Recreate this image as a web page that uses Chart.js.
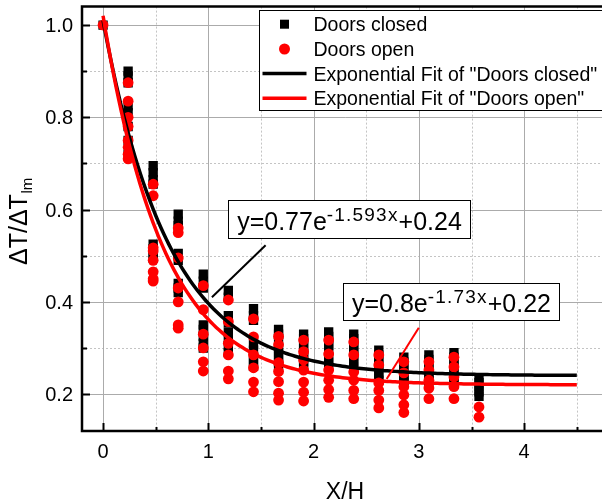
<!DOCTYPE html>
<html>
<head>
<meta charset="utf-8">
<script src="https://cdn.jsdelivr.net/npm/chart.js@4/dist/chart.umd.min.js"></script>
<style>
  html, body { margin: 0; padding: 0; background: #ffffff; overflow: hidden; width: 602px; height: 501px; }
  canvas { display: block; }
</style>
</head>
<body>
<canvas id="c" width="615" height="501"></canvas>
<script>
// Dimensionless position along the corridor for each measurement column
const xPositions = [0, 0.238, 0.476, 0.714, 0.952, 1.19, 1.429, 1.667, 1.905, 2.143, 2.381, 2.619, 2.857, 3.095, 3.333, 3.571];

// Normalised temperature rise per column, doors closed
const closedValues = [
  [1.0],
  [0.90, 0.89, 0.875, 0.825, 0.81, 0.78, 0.75, 0.72],
  [0.695, 0.68, 0.665, 0.655, 0.525, 0.515, 0.505, 0.495],
  [0.59, 0.575, 0.565, 0.505, 0.49, 0.44, 0.43, 0.42],
  [0.46, 0.445, 0.43, 0.35, 0.34, 0.325, 0.31, 0.30],
  [0.425, 0.41, 0.37, 0.355, 0.335, 0.32, 0.305, 0.29],
  [0.385, 0.37, 0.36, 0.31, 0.295, 0.28, 0.27, 0.26],
  [0.34, 0.33, 0.32, 0.30, 0.29, 0.28, 0.27, 0.26],
  [0.33, 0.32, 0.31, 0.30, 0.29, 0.28, 0.27, 0.26],
  [0.335, 0.325, 0.315, 0.305, 0.295, 0.28, 0.27, 0.26],
  [0.33, 0.32, 0.31, 0.30, 0.29, 0.28, 0.27, 0.26],
  [0.295, 0.285, 0.275, 0.265, 0.255, 0.245, 0.235, 0.23],
  [0.28, 0.27, 0.26, 0.25, 0.24, 0.235, 0.23, 0.225],
  [0.285, 0.275, 0.265, 0.255, 0.245, 0.24, 0.23, 0.225],
  [0.29, 0.28, 0.27, 0.26, 0.25, 0.24, 0.235, 0.23],
  [0.235, 0.225, 0.215, 0.205, 0.195]
];

// Normalised temperature rise per column, doors open
const openValues = [
  [1.0],
  [0.875, 0.835, 0.80, 0.78, 0.75, 0.735, 0.72, 0.71],
  [0.655, 0.63, 0.517, 0.51, 0.49, 0.465, 0.45, 0.445],
  [0.56, 0.55, 0.495, 0.43, 0.40, 0.35, 0.343],
  [0.435, 0.383, 0.33, 0.30, 0.27, 0.25],
  [0.404, 0.357, 0.31, 0.285, 0.25, 0.233],
  [0.363, 0.324, 0.285, 0.257, 0.226, 0.205],
  [0.325, 0.307, 0.268, 0.249, 0.227, 0.202, 0.187],
  [0.317, 0.292, 0.274, 0.252, 0.226, 0.204, 0.185],
  [0.317, 0.287, 0.252, 0.23, 0.21, 0.193],
  [0.313, 0.285, 0.248, 0.23, 0.208, 0.19],
  [0.285, 0.263, 0.224, 0.208, 0.187, 0.17],
  [0.27, 0.246, 0.216, 0.198, 0.177, 0.16],
  [0.27, 0.252, 0.23, 0.213, 0.19],
  [0.28, 0.259, 0.237, 0.216, 0.19],
  [0.172, 0.15]
];

// Fitted model y = a * exp(-b x) + c
const fitClosed = [0.77, 1.593, 0.24];
const fitOpen = [0.8, 1.73, 0.22];
const fitRange = [0, 4.5];

// Axis ticks
const xTickValues = [0, 1, 2, 3, 4];
const xTickLabels = ['0', '1', '2', '3', '4'];
const xMinorValues = [0.5, 1.5, 2.5, 3.5, 4.5];
const yTickValues = [0.2, 0.4, 0.6, 0.8, 1.0];
const yTickLabels = ['0.2', '0.4', '0.6', '0.8', '1.0'];
const yMinorValues = [0.3, 0.5, 0.7, 0.9];

const seriesNames = ['Doors closed', 'Doors open', 'Exponential Fit of "Doors closed"', 'Exponential Fit of "Doors open"'];

function columnsToPoints(cols) {
  const pts = [];
  cols.forEach((col, i) => col.forEach(v => pts.push({ x: xPositions[i], y: v })));
  return pts;
}
function fitPoints(p) {
  const pts = [];
  const n = 180;
  for (let k = 0; k <= n; k++) {
    const x = fitRange[0] + (fitRange[1] - fitRange[0]) * k / n;
    pts.push({ x: x, y: p[0] * Math.exp(-p[1] * x) + p[2] });
  }
  return pts;
}

const FONT = '"Liberation Sans", Arial, sans-serif';

// Equation call-outs, anchored in data coordinates
const callouts = [
  {
    parts: [['y=' + fitClosed[0] + 'e', false], ['-' + fitClosed[1] + 'x', true], ['+' + fitClosed[2], false]],
    box: [1.187, 0.620, 3.485, 0.5385],
    pointer: [1.544, 0.5227, 1.034, 0.410],
    color: '#000000'
  },
  {
    parts: [['y=' + fitOpen[0] + 'e', false], ['-' + fitOpen[1] + 'x', true], ['+' + fitOpen[2], false]],
    box: [2.277, 0.4405, 4.330, 0.3604],
    pointer: [2.999, 0.3437, 2.694, 0.2327],
    color: '#ff0000'
  }
];

const framePlugin = {
  id: 'frame',
  beforeDatasetsDraw(chart) {
    const ctx = chart.ctx, a = chart.chartArea;
    const xs = chart.scales.x, ys = chart.scales.y;
    ctx.save();
    // minor dotted grid
    ctx.strokeStyle = '#c4c4c4';
    ctx.lineWidth = 1;
    ctx.setLineDash([2, 2]);
    xMinorValues.forEach(v => {
      const px = Math.round(xs.getPixelForValue(v)) + 0.5;
      ctx.beginPath(); ctx.moveTo(px, a.top); ctx.lineTo(px, a.bottom); ctx.stroke();
    });
    yMinorValues.forEach(v => {
      const py = Math.round(ys.getPixelForValue(v)) + 0.5;
      ctx.beginPath(); ctx.moveTo(a.left, py); ctx.lineTo(a.right, py); ctx.stroke();
    });
    // major solid grid
    ctx.setLineDash([]);
    ctx.strokeStyle = '#ababab';
    xTickValues.forEach(v => {
      const px = Math.round(xs.getPixelForValue(v)) + 0.5;
      ctx.beginPath(); ctx.moveTo(px, a.top); ctx.lineTo(px, a.bottom); ctx.stroke();
    });
    yTickValues.forEach(v => {
      const py = Math.round(ys.getPixelForValue(v)) + 0.5;
      ctx.beginPath(); ctx.moveTo(a.left, py); ctx.lineTo(a.right, py); ctx.stroke();
    });
    ctx.restore();
  },
  afterDatasetsDraw(chart) {
    const ctx = chart.ctx;
    const xs = chart.scales.x, ys = chart.scales.y;
    ctx.save();

    // call-outs
    callouts.forEach(c => {
      const p = c.pointer;
      ctx.strokeStyle = c.color;
      ctx.lineWidth = 2;
      ctx.beginPath();
      ctx.moveTo(xs.getPixelForValue(p[0]), ys.getPixelForValue(p[1]));
      ctx.lineTo(xs.getPixelForValue(p[2]), ys.getPixelForValue(p[3]));
      ctx.stroke();

      const x0 = Math.round(xs.getPixelForValue(c.box[0])) + 0.5;
      const y0 = Math.round(ys.getPixelForValue(c.box[1])) + 0.5;
      const x1 = Math.round(xs.getPixelForValue(c.box[2])) + 0.5;
      const y1 = Math.round(ys.getPixelForValue(c.box[3])) + 0.5;
      ctx.fillStyle = '#ffffff';
      ctx.fillRect(x0, y0, x1 - x0, y1 - y0);
      ctx.strokeStyle = '#000000';
      ctx.lineWidth = 1;
      ctx.strokeRect(x0, y0, x1 - x0, y1 - y0);

      let total = 0;
      const widths = c.parts.map(([t, sup]) => {
        ctx.font = (sup ? '19px ' : '25px ') + FONT;
        ctx.letterSpacing = sup ? '1.2px' : '0px';
        const w = ctx.measureText(t).width;
        total += w;
        return w;
      });
      let tx = (x0 + x1) / 2 - total / 2;
      const base = y1 - 8.5;
      ctx.fillStyle = '#000000';
      ctx.textAlign = 'left';
      ctx.textBaseline = 'alphabetic';
      c.parts.forEach(([t, sup], i) => {
        ctx.font = (sup ? '19px ' : '25px ') + FONT;
        ctx.letterSpacing = sup ? '1.2px' : '0px';
        ctx.fillText(t, tx, sup ? base - 9 : base);
        tx += widths[i];
      });
      ctx.letterSpacing = '0px';
    });

    // legend
    const lx = 259.5, ly = 10.5, lh = 100;
    ctx.fillStyle = '#ffffff';
    ctx.fillRect(lx, ly, 400, lh);
    ctx.strokeStyle = '#000000';
    ctx.lineWidth = 1;
    ctx.strokeRect(lx, ly, 400, lh);
    const rows = [24.2, 49, 73.6, 98.3];
    const mx = 284.5;
    ctx.fillStyle = '#000000';
    ctx.fillRect(mx - 4.5, rows[0] - 4.5, 9, 9);
    ctx.fillStyle = '#ff0000';
    ctx.beginPath(); ctx.arc(mx, rows[1], 5.5, 0, Math.PI * 2); ctx.fill();
    ctx.lineWidth = 3.5;
    ctx.strokeStyle = '#000000';
    ctx.beginPath(); ctx.moveTo(262.5, rows[2]); ctx.lineTo(306.5, rows[2]); ctx.stroke();
    ctx.strokeStyle = '#ff0000';
    ctx.beginPath(); ctx.moveTo(262.5, rows[3]); ctx.lineTo(306.5, rows[3]); ctx.stroke();
    ctx.fillStyle = '#000000';
    ctx.font = '19.5px ' + FONT;
    ctx.textAlign = 'left';
    ctx.textBaseline = 'alphabetic';
    seriesNames.forEach((n, i) => ctx.fillText(n, 313.5, rows[i] + 7));

    ctx.restore();
  },
  afterDraw(chart) {
    const ctx = chart.ctx, a = chart.chartArea;
    const xs = chart.scales.x, ys = chart.scales.y;
    ctx.save();
    // frame
    ctx.strokeStyle = '#000000';
    ctx.lineWidth = 2.5;
    ctx.beginPath();
    ctx.moveTo(a.left, a.top); ctx.lineTo(a.left, a.bottom); ctx.lineTo(a.right, a.bottom);
    ctx.lineTo(a.right, a.top); ctx.closePath();
    ctx.stroke();

    // inward ticks
    ctx.lineWidth = 2;
    xTickValues.forEach(v => {
      const px = Math.round(xs.getPixelForValue(v)) + 0.5;
      ctx.beginPath(); ctx.moveTo(px, a.bottom); ctx.lineTo(px, a.bottom - 8); ctx.stroke();
    });
    xMinorValues.forEach(v => {
      const px = Math.round(xs.getPixelForValue(v)) + 0.5;
      ctx.beginPath(); ctx.moveTo(px, a.bottom); ctx.lineTo(px, a.bottom - 4); ctx.stroke();
    });
    yTickValues.forEach(v => {
      const py = Math.round(ys.getPixelForValue(v)) + 0.5;
      ctx.beginPath(); ctx.moveTo(a.left, py); ctx.lineTo(a.left + 8, py); ctx.stroke();
    });
    yMinorValues.forEach(v => {
      const py = Math.round(ys.getPixelForValue(v)) + 0.5;
      ctx.beginPath(); ctx.moveTo(a.left, py); ctx.lineTo(a.left + 5, py); ctx.stroke();
    });

    // tick labels
    ctx.fillStyle = '#000000';
    ctx.font = '20px ' + FONT;
    ctx.textBaseline = 'alphabetic';
    ctx.textAlign = 'center';
    xTickValues.forEach((v, i) => ctx.fillText(xTickLabels[i], xs.getPixelForValue(v), 457.5));
    ctx.textAlign = 'right';
    yTickValues.forEach((v, i) => ctx.fillText(yTickLabels[i], a.left - 9, ys.getPixelForValue(v) + 7));

    // axis titles
    ctx.font = '23px ' + FONT;
    ctx.textAlign = 'center';
    ctx.fillText('X/H', 345, 499);

    ctx.save();
    ctx.translate(27, 265);
    ctx.rotate(-Math.PI / 2);
    ctx.textAlign = 'left';
    ctx.font = '25px ' + FONT;
    const main = 'ΔT/ΔT';
    ctx.fillText(main, 0, 0);
    const w = ctx.measureText(main).width;
    ctx.font = '15px ' + FONT;
    ctx.fillText('lm', w + 0.5, 5);
    ctx.restore();

    ctx.restore();
  }
};

new Chart(document.getElementById('c'), {
  type: 'scatter',
  data: {
    datasets: [
      {
        label: seriesNames[0],
        data: columnsToPoints(closedValues),
        pointStyle: 'rect',
        pointRadius: 6.6,
        backgroundColor: '#000000',
        borderWidth: 0,
        order: 4
      },
      {
        label: seriesNames[1],
        data: columnsToPoints(openValues),
        pointStyle: 'circle',
        pointRadius: 5.4,
        backgroundColor: '#ff0000',
        borderWidth: 0,
        order: 3
      },
      {
        label: seriesNames[2],
        data: fitPoints(fitClosed),
        showLine: true,
        pointRadius: 0,
        borderColor: '#000000',
        borderWidth: 3.5,
        tension: 0,
        order: 2
      },
      {
        label: seriesNames[3],
        data: fitPoints(fitOpen),
        showLine: true,
        pointRadius: 0,
        borderColor: '#ff0000',
        borderWidth: 3.5,
        tension: 0,
        order: 1
      }
    ]
  },
  options: {
    responsive: false,
    animation: false,
    events: [],
    layout: { padding: { left: 82, right: 2, top: 6, bottom: 70 } },
    plugins: { legend: { display: false }, tooltip: { enabled: false } },
    scales: {
      x: { type: 'linear', min: -0.2, max: 4.8, display: false },
      y: { type: 'linear', min: 0.12, max: 1.04, display: false }
    }
  },
  plugins: [framePlugin]
});
</script>
</body>
</html>
